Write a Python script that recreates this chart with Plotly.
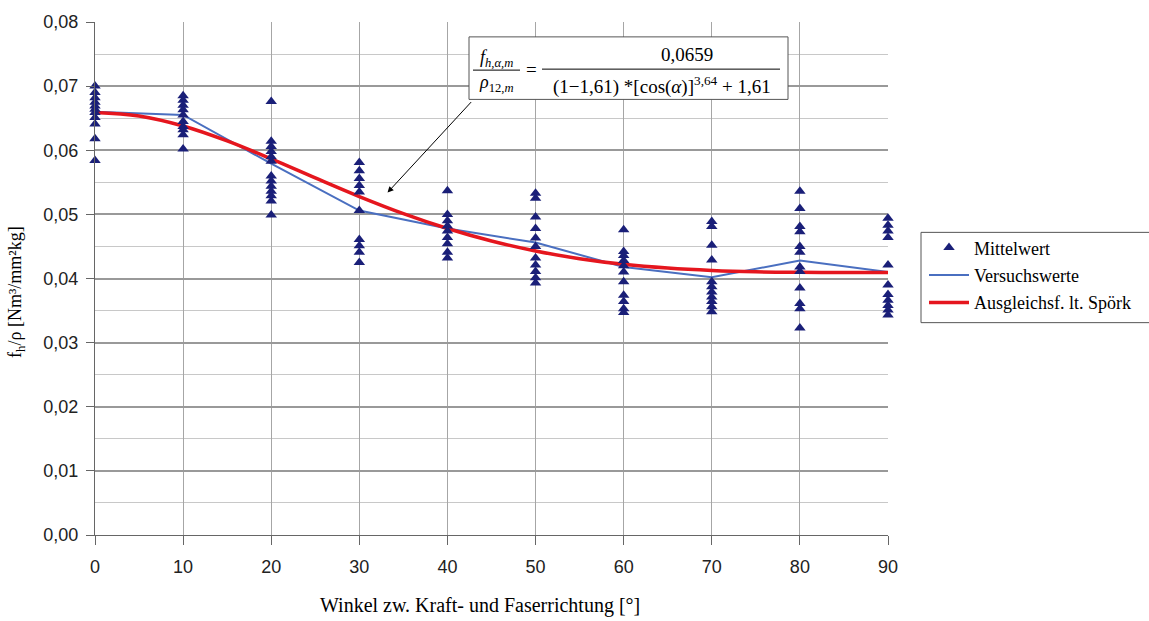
import plotly.graph_objects as go

# Measured values (Mittelwert) per load angle
angles = [0, 10, 20, 30, 40, 50, 60, 70, 80, 90]
m0 = [0.0700, 0.0690, 0.0682, 0.0675, 0.0669, 0.0664, 0.0659, 0.0651, 0.0641, 0.0618, 0.0584]
m10 = [0.0685, 0.0678, 0.0670, 0.0663, 0.0655, 0.0645, 0.0637, 0.0632, 0.0624, 0.0602]
m20 = [0.0676, 0.0614, 0.0606, 0.0598, 0.0590, 0.0583, 0.0560, 0.0552, 0.0544, 0.0536, 0.0529, 0.0521, 0.0499]
m30 = [0.0581, 0.0568, 0.0556, 0.0545, 0.0535, 0.0506, 0.0461, 0.0451, 0.0441, 0.0425]
m40 = [0.0537, 0.0500, 0.0490, 0.0482, 0.0474, 0.0464, 0.0454, 0.0441, 0.0432]
m50 = [0.0533, 0.0525, 0.0496, 0.0478, 0.0463, 0.0450, 0.0432, 0.0421, 0.0411, 0.0401, 0.0393]
m60 = [0.0476, 0.0442, 0.0436, 0.0428, 0.0420, 0.0410, 0.0395, 0.0374, 0.0364, 0.0353, 0.0347]
m70 = [0.0489, 0.0481, 0.0452, 0.0429, 0.0395, 0.0387, 0.0379, 0.0371, 0.0364, 0.0356, 0.0348]
m80 = [0.0536, 0.0509, 0.0481, 0.0473, 0.0450, 0.0441, 0.0418, 0.0411, 0.0385, 0.0361, 0.0353, 0.0323]
m90 = [0.0494, 0.0483, 0.0474, 0.0464, 0.0421, 0.0390, 0.0375, 0.0366, 0.0358, 0.0351, 0.0343]
groups = [m0, m10, m20, m30, m40, m50, m60, m70, m80, m90]

# Test series (Versuchswerte)
versuch = [0.0660, 0.0655, 0.0579, 0.0506, 0.0478, 0.0456, 0.0418, 0.0402, 0.0428, 0.0410]

# Fit curve (Ausgleichsfunktion) sampled every 5 degrees
fit_angles = [0, 5, 10, 15, 20, 25, 30, 35, 40, 45, 50, 55, 60, 65, 70, 75, 80, 85, 90]
fit_vals = [0.06590, 0.06535, 0.06379, 0.06146, 0.05865, 0.05568, 0.05278, 0.05012, 0.04780,
            0.04585, 0.04429, 0.04309, 0.04221, 0.04162, 0.04125, 0.04104, 0.04096, 0.04093, 0.04093]

y_ticks = [0.00, 0.01, 0.02, 0.03, 0.04, 0.05, 0.06, 0.07, 0.08]

mx, my = [], []
for a, g in zip(angles, groups):
    mx += [a] * len(g)
    my += g

# plot area in pixels
L, R, T, B = 95, 888, 18, 535
W, H = 1149, 621


def px(x):
    return (x - L) / (R - L)


def py(y):
    return (B - y) / (B - T)


SERIF = "Liberation Serif"
SANS = "Liberation Sans"

fig = go.Figure()
fig.add_trace(go.Scatter(x=angles, y=versuch, mode="lines", name="Versuchswerte",
                         line=dict(color="#4a6fc0", width=2), legendrank=2, legendgroup="b"))
fig.add_trace(go.Scatter(x=fit_angles, y=fit_vals, mode="lines", name="Ausgleichsf. lt. Spörk",
                         line=dict(color="#e5161e", width=3.5, shape="spline"), legendrank=3,
                         legendgroup="c"))
fig.add_trace(go.Scatter(x=mx, y=my, mode="markers", name="Mittelwert",
                         marker=dict(symbol="triangle-up", size=10, color="#1a1f78"),
                         cliponaxis=False, legendrank=1, legendgroup="a"))

shapes = []
annotations = []


def label(x, y, text, size, angle=0):
    annotations.append(dict(xref="paper", yref="paper", x=px(x), y=py(y), text=text,
                            showarrow=False, xanchor="center", yanchor="middle",
                            textangle=angle,
                            font=dict(family=SERIF, size=size, color="black")))


# legend frame (runs off the right edge)
shapes.append(dict(type="rect", xref="paper", yref="paper", x0=px(921), x1=px(1175),
                   y0=py(321), y1=py(230), line=dict(color="#555", width=1),
                   fillcolor="rgba(0,0,0,0)", layer="below"))

# formula box
shapes.append(dict(type="rect", xref="paper", yref="paper", x0=px(469), x1=px(788),
                   y0=py(96), y1=py(33), line=dict(color="#555", width=1), fillcolor="white"))
shapes.append(dict(type="line", xref="paper", yref="paper", x0=px(473), x1=px(520),
                   y0=py(66.5), y1=py(66.5), line=dict(color="black", width=1)))
shapes.append(dict(type="line", xref="paper", yref="paper", x0=px(542), x1=px(780),
                   y0=py(65.5), y1=py(65.5), line=dict(color="black", width=1)))

label(496, 55, "<i>f</i><sub><i>h,α,m</i></sub>", 18)
label(496, 80, "<i>ρ</i><sub>12,<i>m</i></sub>", 18)
label(531, 66, "=", 19)
label(687, 51, "0,0659", 19)
label(662, 82, "(1−1,61) *[cos(<i>α</i>)]<sup>3,64</sup> + 1,61", 19)

# arrow from formula box to fit curve
annotations.append(dict(x=33.2, y=0.0534, xref="x", yref="y", ax=85, ay=-92, text="",
                        showarrow=True, arrowhead=2, arrowsize=1.2, arrowwidth=1,
                        arrowcolor="black"))

# axis titles
label(480, 606, "Winkel zw. Kraft- und Faserrichtung [°]", 20)
label(17, 290, "f<sub>h</sub>/ρ [Nm³/mm²kg]", 18, angle=-90)

fig.update_layout(
    width=W, height=H,
    margin=dict(l=L, r=W - R, t=T, b=H - B, pad=0),
    paper_bgcolor="white", plot_bgcolor="white",
    separators=", ",
    showlegend=True,
    legend=dict(x=px(924), y=py(227), xanchor="left", yanchor="top",
                font=dict(family=SERIF, size=18, color="black"),
                bgcolor="rgba(0,0,0,0)", borderwidth=0, itemwidth=40,
                traceorder="grouped", tracegroupgap=1),
    shapes=shapes, annotations=annotations,
    xaxis=dict(range=[0, 90], tickvals=angles, ticks="outside", ticklen=9, tickcolor="#666",
               showline=True, linecolor="#666", linewidth=1, mirror=False,
               showgrid=True, gridcolor="#a6a6a6", gridwidth=1, zeroline=False,
               ticklabelstandoff=6,
               tickfont=dict(family=SANS, size=18, color="#222")),
    yaxis=dict(range=[0, 0.08], tickvals=y_ticks, tickformat=".2f", ticks="outside", ticklen=8,
               tickcolor="#666", showline=True, linecolor="#666", linewidth=1,
               showgrid=True, gridcolor="#999", gridwidth=1.5, zeroline=False,
               ticklabelstandoff=4,
               minor=dict(dtick=0.005, showgrid=True, gridcolor="#c8c8c8", gridwidth=1),
               tickfont=dict(family=SANS, size=18, color="#222")),
)

fig.write_html("out.html")
